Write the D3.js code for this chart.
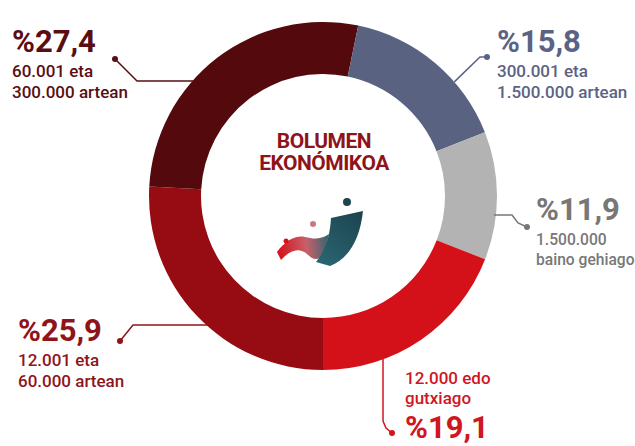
<!DOCTYPE html>
<html>
<head>
<meta charset="utf-8">
<script src="https://cdn.jsdelivr.net/npm/d3@7"></script>
<style>
  body { margin: 0; background: #fff; }
  svg { display: block; font-family: Roboto, "Noto Sans", sans-serif; }
</style>
</head>
<body>
<div id="chart"></div>
<script>
var w = 635;
var h = 446;

// data, clockwise from 6 o'clock
var categories = ["12.001-60.000", "60.001-300.000", "300.001-1.500.000", "1.500.000+", "<=12.000"];
var values = [25.9, 27.4, 15.8, 11.9, 19.1];
var pctLabels = ["%25,9", "%27,4", "%15,8", "%11,9", "%19,1"];
var subLabels = [
  ["12.001 eta", "60.000 artean"],
  ["60.001 eta", "300.000 artean"],
  ["300.001 eta", "1.500.000 artean"],
  ["1.500.000", "baino gehiago"],
  ["12.000 edo", "gutxiago"]
];
var title = ["BOLUMEN", "EKONÓMIKOA"];

var fills = ["#960c12", "#540a0d", "#5a6282", "#b3b3b3", "#d41118"];
var textColors = ["#8f1419", "#5a0e12", "#5b6384", "#777777", "#d0161f"];

var cx = 323, cy = 196;
var outerR = 174, innerR = 122;

// label layout: text anchor, leader polyline (last point = dot), ring hook
var layout = [
  { x: 18, y: 341, sub: [366, 387], fs: 17, hookY: 325, side: -1, pts: [[133, 325], [120, 341]] },
  { x: 12, y: 52, sub: [77, 98], fs: 17, hookY: 81, side: -1, pts: [[137, 81], [115, 59]] },
  { x: 497, y: 52, sub: [77, 98], fs: 17, hookAngle: 49, pts: [[480, 57], [487, 57]] },
  { x: 536, y: 220, sub: [245, 265], fs: 15.6, hookY: 215, side: 1, pts: [[512, 215], [518, 223], [527, 227]] },
  { x: 405, y: 438, sub: [384, 404], fs: 17, hookX: 383, pts: [[383, 421], [386, 428], [392, 433]] }
];

var svg = d3.select("#chart").append("svg")
  .attr("width", w)
  .attr("height", h);

var pie = d3.pie().sort(null).startAngle(Math.PI).endAngle(3 * Math.PI);
var arc = d3.arc().innerRadius(innerR).outerRadius(outerR);

var g = svg.append("g").attr("transform", "translate(" + cx + "," + cy + ")");

g.selectAll("path")
  .data(pie(values))
  .join("path")
  .attr("d", arc)
  .attr("fill", function (d, i) { return fills[i]; });

// hook point on the outer edge of the ring
function hook(l) {
  if (l.hookAngle != null) {
    var a = l.hookAngle * Math.PI / 180;
    return [cx + outerR * Math.sin(a), cy - outerR * Math.cos(a)];
  }
  if (l.hookX != null) {
    var dx = l.hookX - cx;
    return [l.hookX, cy + Math.sqrt(outerR * outerR - dx * dx) - 2];
  }
  var dy = l.hookY - cy;
  return [cx + l.side * (Math.sqrt(outerR * outerR - dy * dy) - 2), l.hookY];
}

var line = d3.line();

layout.forEach(function (l, i) {
  var pts = [hook(l)].concat(l.pts);
  var dot = pts[pts.length - 1];
  svg.append("path")
    .attr("d", line(pts))
    .attr("fill", "none")
    .attr("stroke", textColors[i])
    .attr("stroke-width", 1.5);
  svg.append("circle")
    .attr("cx", dot[0]).attr("cy", dot[1]).attr("r", 3)
    .attr("fill", textColors[i]);

  svg.append("text")
    .attr("x", l.x).attr("y", l.y)
    .attr("fill", textColors[i])
    .attr("font-size", 31)
    .attr("font-weight", 700)
    .text(pctLabels[i]);

  subLabels[i].forEach(function (s, j) {
    svg.append("text")
      .attr("x", l.x).attr("y", l.sub[j])
      .attr("fill", textColors[i])
      .attr("font-size", l.fs)
      .attr("font-weight", 500)
      .text(s);
  });
});

// center title
svg.selectAll(".title")
  .data(title)
  .join("text")
  .attr("class", "title")
  .attr("x", cx + 1)
  .attr("y", function (d, i) { return 148 + i * 22; })
  .attr("text-anchor", "middle")
  .attr("fill", "#8f1419")
  .attr("font-size", 21)
  .attr("font-weight", 700)
  .attr("letter-spacing", -0.5)
  .text(function (d) { return d; });

// logo
var defs = svg.append("defs");
var grad = defs.append("linearGradient").attr("id", "rib")
  .attr("gradientUnits", "userSpaceOnUse")
  .attr("x1", 278).attr("x2", 330).attr("y1", 250).attr("y2", 245);
grad.append("stop").attr("offset", "0%").attr("stop-color", "#d4121a");
grad.append("stop").attr("offset", "55%").attr("stop-color", "#c8606a");
grad.append("stop").attr("offset", "100%").attr("stop-color", "#2f6570");

var grad2 = defs.append("linearGradient").attr("id", "band")
  .attr("gradientUnits", "userSpaceOnUse")
  .attr("x1", 320).attr("x2", 362).attr("y1", 262).attr("y2", 212);
grad2.append("stop").attr("offset", "0%").attr("stop-color", "#2a6570");
grad2.append("stop").attr("offset", "100%").attr("stop-color", "#1b4450");

svg.append("path")
  .attr("d", "M277,252 C286,240 296,235 305,237 C313,239 320,240 329,234 L325,252 C319,262 313,260 307,254 C299,247 290,250 281,260 Z")
  .attr("fill", "url(#rib)");
svg.append("path")
  .attr("d", "M331,218 L363,211 C360,238 350,258 330,266 L316,262 C326,250 330,235 331,218 Z")
  .attr("fill", "url(#band)");
svg.append("circle").attr("cx", 347).attr("cy", 202).attr("r", 4).attr("fill", "#1d4550");
svg.append("circle").attr("cx", 313).attr("cy", 224).attr("r", 3).attr("fill", "#c77a80");
svg.append("circle").attr("cx", 286).attr("cy", 241).attr("r", 2.5).attr("fill", "#d4121a");
</script>
</body>
</html>
